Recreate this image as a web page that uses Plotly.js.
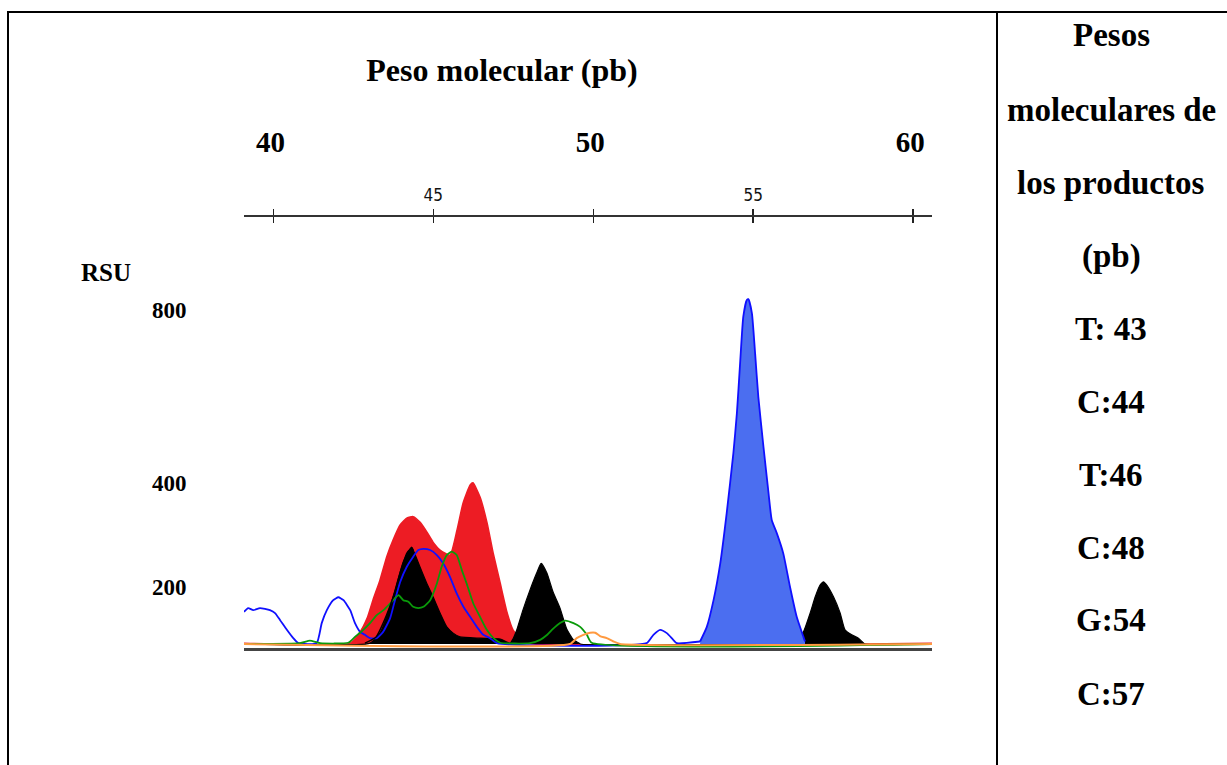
<!DOCTYPE html>
<html>
<head>
<meta charset="utf-8">
<script src="https://cdn.plot.ly/plotly-3.0.1.min.js"></script>
<style>
  html, body { margin: 0; padding: 0; background: #ffffff; }
  #chart { width: 1227px; height: 765px; }
</style>
</head>
<body>
<div id="chart"></div>
<script>
// ---------- data (molecular weight in bp, signal in RSU) ----------
const redX = [39.08, 42.40, 42.71, 42.93, 43.11, 43.33, 43.55, 43.74, 43.96, 44.18, 44.37, 44.58, 44.80, 44.99, 45.21, 45.52, 45.74, 45.93, 46.15, 46.24, 46.46, 46.68, 46.87, 47.09, 47.30, 47.49, 47.71, 47.93, 60.59];
const redY = [2, 2, 29, 62, 105, 153, 211, 249, 285, 302, 305, 292, 268, 244, 225, 213, 273, 338, 381, 386, 352, 290, 218, 146, 77, 34, 12, 2, 2];

const blackX = [39.08, 43.02, 43.33, 43.54, 43.74, 43.96, 44.17, 44.32, 44.37, 44.58, 44.79, 44.99, 45.21, 45.42, 45.62, 45.83, 46.46, 47.09, 47.40, 47.49, 47.61, 47.80, 48.02, 48.23, 48.37, 48.55, 48.74, 48.96, 49.17, 49.37, 49.49, 49.60, 56.20, 56.31, 56.57, 56.78, 56.94, 57.09, 57.20, 57.30, 57.51, 57.72, 57.87, 58.08, 58.29, 58.40, 58.50, 60.59];
const blackY = [0, 2, 26, 65, 113, 172, 218, 230, 225, 185, 146, 113, 74, 41, 26, 17, 14, 12, 2, 12, 34, 81, 129, 170, 193, 170, 125, 86, 36, 11, 5, 0, 0, 6, 29, 74, 113, 141, 149, 141, 113, 74, 34, 22, 14, 6, 0, 0];

const blueFillX = [53.34, 53.55, 53.76, 53.97, 54.17, 54.38, 54.49, 54.59, 54.69, 54.80, 54.85, 54.96, 55.06, 55.16, 55.32, 55.48, 55.58, 55.74, 55.94, 56.15, 56.36, 56.57, 56.62];
const blueFillY = [6, 41, 105, 193, 313, 457, 553, 672, 784, 824, 826, 792, 696, 592, 473, 361, 297, 265, 217, 137, 65, 17, 6];

const blueLineX = [39.08, 39.21, 39.37, 39.58, 39.89, 40.05, 40.21, 40.42, 40.62, 40.78, 41.35, 41.51, 41.67, 41.87, 42.03, 42.19, 42.40, 42.55, 42.71, 42.86, 43.02, 43.23, 43.43, 43.65, 43.80, 43.96, 44.17, 44.37, 44.53, 44.69, 44.90, 45.11, 45.31, 45.52, 45.73, 45.94, 46.15, 46.36, 46.56, 46.77, 46.99, 51.67, 51.88, 52.09, 52.30, 52.50, 52.61, 53.34];
const blueLineY = [77, 86, 81, 86, 81, 74, 57, 34, 14, 2, 2, 50, 81, 105, 112, 105, 81, 50, 29, 22, 14, 14, 29, 62, 105, 148, 185, 209, 225, 228, 225, 213, 193, 161, 121, 89, 65, 41, 22, 14, 2, 2, 22, 34, 26, 10, 2, 6];

const greenX = [39.08, 40.83, 41.14, 41.46, 42.34, 42.55, 42.81, 43.02, 43.23, 43.44, 43.65, 43.91, 44.06, 44.22, 44.37, 44.53, 44.69, 44.90, 45.11, 45.26, 45.42, 45.58, 45.73, 45.89, 46.04, 46.25, 46.46, 46.67, 46.88, 47.09, 48.02, 48.34, 48.56, 48.74, 48.96, 49.12, 49.38, 49.59, 49.80, 49.95, 60.59];
const greenY = [0, 2, 8, 2, 3, 17, 34, 50, 69, 81, 97, 117, 105, 101, 89, 86, 89, 105, 145, 185, 213, 221, 213, 177, 145, 97, 65, 34, 14, 3, 2, 10, 22, 36, 50, 56, 50, 41, 22, 3, 0];

const orangeX = [39.08, 49.27, 49.48, 49.69, 49.90, 50.06, 50.21, 50.42, 50.63, 50.84, 60.59];
const orangeY = [0, 0, 14, 22, 27, 27, 19, 14, 6, 0, 0];

const blackLineX = [42.86, 43.21, 43.43, 43.80, 44.05, 44.32, 44.37];
const blackLineY = [2, 17, 50, 125, 194, 232, 225];

const minorTicks = [40, 45, 50, 55, 60];
const minorLabels = ['', '45', '', '55', ''];
const majorTicks = [40, 50, 60];
const majorLabels = ['40', '50', '60'];

const yLabels = ['800', '400', '200'];
const yUnit = 'RSU';
const chartTitle = 'Peso molecular (pb)';
const productLines = ['Pesos', 'moleculares de', 'los productos', '(pb)', 'T: 43', 'C:44', 'T:46', 'C:48', 'G:54', 'C:57'];

// ---------- layout helpers ----------
const W = 1227, H = 765;
const M = {l: 244, r: 295, t: 217, b: 117};
const plotW = W - M.l - M.r, plotH = H - M.t - M.b;
const px = v => (v - M.l) / plotW;          // page x -> paper x
const py = v => (H - M.b - v) / plotH;      // page y -> paper y

const xRange = [39.08, 60.59];
const yRange = [-9.6, 1022.7];
const serif = 'Liberation Serif, Times New Roman, serif';
const narrow = 'Liberation Sans Narrow, DejaVu Sans Condensed, Arial Narrow, sans-serif';

const RED = '#ed1c24', BLUE_FILL = '#4b6ef0', BLUE = '#1010ff', GREEN = '#0a9a0a', ORANGE = '#ff9a40';
const SM = 0.5;

const traces = [
  {x: redX, y: redY, xaxis: 'x', yaxis: 'y', type: 'scatter', mode: 'lines', fill: 'tozeroy',
   fillcolor: RED, line: {color: RED, width: 1.5, shape: 'spline', smoothing: SM}, hoverinfo: 'skip'},
  {x: blackX, y: blackY, xaxis: 'x2', yaxis: 'y', type: 'scatter', mode: 'lines', fill: 'tozeroy',
   fillcolor: '#000000', line: {color: '#000000', width: 1.2, shape: 'spline', smoothing: SM}, hoverinfo: 'skip'},
  {x: blueFillX, y: blueFillY, xaxis: 'x3', yaxis: 'y', type: 'scatter', mode: 'lines', fill: 'tozeroy',
   fillcolor: BLUE_FILL, line: {color: BLUE, width: 1.8, shape: 'spline', smoothing: SM}, hoverinfo: 'skip'},
  {x: blueLineX, y: blueLineY, xaxis: 'x3', yaxis: 'y', type: 'scatter', mode: 'lines',
   line: {color: BLUE, width: 1.8, shape: 'spline', smoothing: SM}, hoverinfo: 'skip'},
  {x: greenX, y: greenY, xaxis: 'x4', yaxis: 'y', type: 'scatter', mode: 'lines',
   line: {color: GREEN, width: 1.8, shape: 'spline', smoothing: SM}, hoverinfo: 'skip'},
  {x: blackLineX, y: blackLineY, xaxis: 'x4', yaxis: 'y', type: 'scatter', mode: 'lines',
   line: {color: '#000000', width: 1.4, shape: 'spline', smoothing: SM}, hoverinfo: 'skip'},
  {x: orangeX, y: orangeY, xaxis: 'x4', yaxis: 'y', type: 'scatter', mode: 'lines',
   line: {color: ORANGE, width: 2, shape: 'spline', smoothing: SM}, hoverinfo: 'skip'}
];

const baseAxis = {range: xRange, showgrid: false, zeroline: false, fixedrange: true};

const annotations = [];
annotations.push({text: yUnit, xref: 'paper', yref: 'paper', x: px(106), y: py(272),
  xanchor: 'center', yanchor: 'middle', showarrow: false,
  font: {family: serif, size: 25, weight: 700, color: '#000'}});
const yLabelPos = [310, 483, 587];
yLabels.forEach((t, i) => annotations.push({text: t, xref: 'paper', yref: 'paper', x: px(169), y: py(yLabelPos[i]),
  xanchor: 'center', yanchor: 'middle', showarrow: false,
  font: {family: serif, size: 23, weight: 700, color: '#000'}}));
const rowPos = [35, 110, 183, 256, 329, 402, 475, 548, 620, 694];
productLines.forEach((t, i) => annotations.push({text: t, xref: 'paper', yref: 'paper', x: px(1111), y: py(rowPos[i]),
  xanchor: 'center', yanchor: 'middle', showarrow: false,
  font: {family: serif, size: 33, weight: 700, color: '#000'}}));

const border = {color: '#000000', width: 2};
const shapes = [
  {type: 'line', xref: 'paper', yref: 'paper', x0: px(7), x1: px(1240), y0: py(12), y1: py(12), line: border},
  {type: 'line', xref: 'paper', yref: 'paper', x0: px(8), x1: px(8), y0: py(11), y1: py(780), line: border},
  {type: 'line', xref: 'paper', yref: 'paper', x0: px(997), x1: px(997), y0: py(11), y1: py(780), line: border}
];

const layout = {
  width: W, height: H,
  margin: {l: M.l, r: M.r, t: M.t, b: M.b, pad: 0},
  paper_bgcolor: '#ffffff', plot_bgcolor: 'rgba(0,0,0,0)',
  showlegend: false,
  title: {text: chartTitle, xref: 'container', yref: 'container', x: 502 / W, y: 1 - 70 / H,
          xanchor: 'center', yanchor: 'middle',
          font: {family: serif, size: 32, weight: 700, color: '#000'}},
  xaxis: Object.assign({}, baseAxis, {side: 'bottom', anchor: 'y', showline: true, linecolor: '#444444',
          linewidth: 3, ticks: '', showticklabels: false}),
  xaxis2: Object.assign({}, baseAxis, {overlaying: 'x', side: 'top', anchor: 'y', showline: true,
          linecolor: '#333333', linewidth: 2.5, ticks: 'outside', ticklen: 6, tickwidth: 1.5, tickcolor: '#222',
          tickmode: 'array', tickvals: minorTicks, ticktext: minorLabels, ticklabelstandoff: 1,
          tickfont: {family: narrow, size: 17, color: '#111'}}),
  xaxis3: Object.assign({}, baseAxis, {overlaying: 'x', side: 'top', anchor: 'y', showline: false,
          ticks: 'inside', ticklen: 6, tickwidth: 1.5, tickcolor: '#222',
          tickmode: 'array', tickvals: minorTicks, showticklabels: false}),
  xaxis4: Object.assign({}, baseAxis, {overlaying: 'x', side: 'top', anchor: 'y', showline: false,
          ticks: '', tickmode: 'array', tickvals: majorTicks, ticktext: majorLabels,
          ticklabelstandoff: 58, ticklabelshift: -3,
          tickfont: {family: serif, size: 29, weight: 700, color: '#000'}}),
  yaxis: {range: yRange, visible: false, showgrid: false, zeroline: false, fixedrange: true},
  annotations: annotations,
  shapes: shapes
};

Plotly.newPlot('chart', traces, layout, {staticPlot: true, displayModeBar: false});
</script>
</body>
</html>
